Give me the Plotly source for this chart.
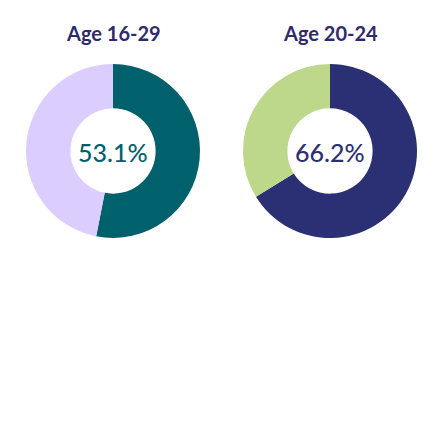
import plotly.graph_objects as go

titles = ["Age 16-29", "Age 20-24"]
shares = [53.1, 66.2]
main_colors = ["#00616c", "#2b2f74"]
rest_colors = ["#dccdff", "#bdd88a"]

W = H = 445
domains_x = [[26 / W, 200 / W], [243 / W, 417 / W]]
dom_y = [1 - 238 / H, 1 - 64 / H]

fig = go.Figure()
for i, (t, s) in enumerate(zip(titles, shares)):
    fig.add_trace(go.Pie(
        values=[s, 100 - s],
        labels=["share", "rest"],
        marker=dict(colors=[main_colors[i], rest_colors[i]], line=dict(width=0)),
        hole=0.49,
        sort=False,
        direction="clockwise",
        rotation=0,
        textinfo="none",
        hoverinfo="skip",
        showlegend=False,
        domain=dict(x=domains_x[i], y=dom_y),
    ))
    cx = (domains_x[i][0] + domains_x[i][1]) / 2
    fig.add_annotation(x=cx, y=1 - 33 / H, xref="paper", yref="paper",
                       xanchor="center", yanchor="middle",
                       text=t, showarrow=False,
                       font=dict(family="Lato", size=20, color="#2e2b6d", weight="bold"))
    fig.add_annotation(x=cx, y=1 - 152 / H, xref="paper", yref="paper",
                       xanchor="center", yanchor="middle",
                       text=f"{s:.1f}%", showarrow=False,
                       font=dict(family="Lato", size=25, color=main_colors[i], weight=500))

fig.update_layout(width=W, height=H, margin=dict(l=0, r=0, t=0, b=0),
                  paper_bgcolor="white", plot_bgcolor="white")
fig.write_html("out.html", config={"displayModeBar": False},
               post_script="document.body.style.margin='0';")
